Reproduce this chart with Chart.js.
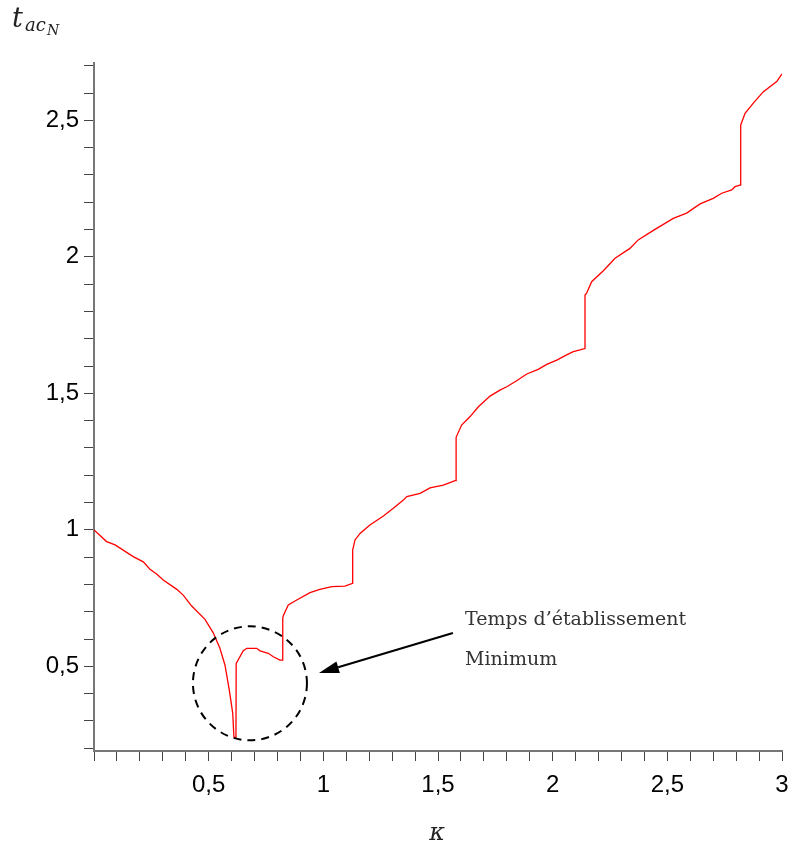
<!DOCTYPE html>
<html>
<head>
<meta charset="utf-8">
<script src="https://cdn.jsdelivr.net/npm/chart.js@4/dist/chart.umd.min.js"></script>
<style>
  html,body{margin:0;padding:0;background:#fff;}
  #wrap{width:789px;height:845px;}
</style>
</head>
<body>
<div id="wrap"><canvas id="tacChart" width="789" height="845"></canvas></div>
<script>
// kappa values (x) and settling time t_acN (y)
const kappa = [0, 0.055, 0.092, 0.171, 0.215, 0.244, 0.273, 0.302, 0.361, 0.389, 0.426, 0.484, 0.520, 0.549, 0.571, 0.590, 0.605, 0.610, 0.619,
  0.620, 0.651, 0.666, 0.709, 0.724, 0.760, 0.782, 0.811, 0.823,
  0.823, 0.825, 0.847, 0.884, 0.942, 0.985, 1.037, 1.094, 1.128,
  1.128, 1.138, 1.160, 1.203, 1.262, 1.305, 1.349, 1.364, 1.422, 1.465, 1.523, 1.552, 1.574, 1.579,
  1.579, 1.603, 1.640, 1.676, 1.727, 1.770, 1.800, 1.843, 1.887, 1.937, 1.974, 2.018, 2.061, 2.090, 2.119, 2.141,
  2.141, 2.148, 2.170, 2.221, 2.272, 2.337, 2.373, 2.439, 2.526, 2.584, 2.643, 2.700, 2.737, 2.781, 2.795, 2.817, 2.820,
  2.820, 2.839, 2.875, 2.919, 2.977, 3.0];
const tacN = [1.0, 0.957, 0.945, 0.902, 0.883, 0.856, 0.838, 0.816, 0.782, 0.761, 0.721, 0.672, 0.623, 0.566, 0.505, 0.413, 0.328, 0.242, 0.237,
  0.511, 0.557, 0.566, 0.566, 0.557, 0.548, 0.535, 0.523, 0.523,
  0.676, 0.685, 0.725, 0.743, 0.770, 0.782, 0.792, 0.794, 0.804,
  0.926, 0.963, 0.987, 1.018, 1.051, 1.079, 1.109, 1.122, 1.134, 1.154, 1.164, 1.173, 1.180, 1.180,
  1.339, 1.384, 1.415, 1.451, 1.490, 1.512, 1.524, 1.546, 1.571, 1.588, 1.606, 1.622, 1.641, 1.653, 1.659, 1.664,
  1.860, 1.867, 1.909, 1.949, 1.995, 2.031, 2.062, 2.097, 2.141, 2.160, 2.194, 2.214, 2.233, 2.245, 2.257, 2.263, 2.263,
  2.483, 2.526, 2.563, 2.605, 2.642, 2.67];

const xLabelValues = [0.5, 1, 1.5, 2, 2.5, 3];
const yLabelValues = [0.5, 1, 1.5, 2, 2.5];

// annotation: circle around the minimum, arrow and caption
const minCircle = {x:0.68, y:0.438};
const arrowFrom = {x:1.565, y:0.622};
const arrowTo = {x:0.981, y:0.476};
const captionLines = ['Temps d\u2019\u00e9tablissement', 'Minimum'];
const captionPos = [{x:1.618, y:0.652}, {x:1.618, y:0.505}];

const fmt = v => String(Math.round(v*10)/10).replace('.', ',');
const hasLabel = (list, v) => list.some(l => Math.abs(l - v) < 1e-6);

function tenthTicks(from, to){
  const out = [];
  for(let i = Math.round(from*10); i <= Math.round(to*10); i++) out.push({value:i/10});
  return out;
}

const annotate = {
  id:'annotate',
  afterDraw(chart){
    const {ctx, scales:{x, y}} = chart;
    ctx.save();
    // dashed circle
    ctx.strokeStyle = '#000';
    ctx.lineWidth = 2;
    ctx.setLineDash([8, 6]);
    ctx.beginPath();
    ctx.arc(x.getPixelForValue(minCircle.x), y.getPixelForValue(minCircle.y), 57, 0, Math.PI*2);
    ctx.stroke();
    ctx.setLineDash([]);

    // arrow
    const x0 = x.getPixelForValue(arrowFrom.x), y0 = y.getPixelForValue(arrowFrom.y);
    const x1 = x.getPixelForValue(arrowTo.x), y1 = y.getPixelForValue(arrowTo.y);
    const ang = Math.atan2(y1 - y0, x1 - x0);
    const hl = 20, hw = 6;
    ctx.beginPath();
    ctx.moveTo(x0, y0);
    ctx.lineTo(x1 - hl*Math.cos(ang), y1 - hl*Math.sin(ang));
    ctx.stroke();
    ctx.fillStyle = '#000';
    ctx.beginPath();
    ctx.moveTo(x1, y1);
    ctx.lineTo(x1 - hl*Math.cos(ang) + hw*Math.sin(ang), y1 - hl*Math.sin(ang) - hw*Math.cos(ang));
    ctx.lineTo(x1 - hl*Math.cos(ang) - hw*Math.sin(ang), y1 - hl*Math.sin(ang) + hw*Math.cos(ang));
    ctx.closePath();
    ctx.fill();

    // caption
    ctx.fillStyle = '#333';
    ctx.font = '19px "DejaVu Serif"';
    ctx.textAlign = 'left';
    ctx.textBaseline = 'alphabetic';
    captionLines.forEach((t, i) => {
      ctx.fillText(t, x.getPixelForValue(captionPos[i].x), y.getPixelForValue(captionPos[i].y));
    });

    // axis titles
    ctx.fillStyle = '#222';
    ctx.font = 'italic 27px "DejaVu Serif"';
    ctx.fillText('t', 12, 27);
    ctx.font = 'italic 18px "DejaVu Serif"';
    ctx.fillText('ac', 25, 31);
    ctx.font = 'italic 14px "DejaVu Serif"';
    ctx.fillText('N', 47, 35);

    ctx.font = 'italic 24px "DejaVu Serif"';
    ctx.textAlign = 'center';
    ctx.fillText('\u03ba', 437, 840);
    ctx.restore();
  }
};

const ctx = document.getElementById('tacChart').getContext('2d');
new Chart(ctx, {
  type:'line',
  data:{
    datasets:[{
      data:kappa.map((k, i) => ({x:k, y:tacN[i]})),
      borderColor:'#ff0000',
      borderWidth:1.3,
      pointRadius:0,
      tension:0,
      fill:false
    }]
  },
  options:{
    responsive:false,
    animation:false,
    layout:{padding:{top:63, right:7, left:0, bottom:0}},
    plugins:{legend:{display:false}, tooltip:{enabled:false}},
    scales:{
      x:{
        type:'linear', min:0, max:3,
        afterBuildTicks:axis => { axis.ticks = tenthTicks(0, 3); },
        afterFit:axis => { axis.height = 94; axis.paddingLeft = 0; axis.paddingRight = 0; },
        border:{display:true, color:'#777', width:2},
        grid:{drawOnChartArea:false, drawTicks:true, tickLength:10, tickColor:'#444', lineWidth:1},
        ticks:{
          autoSkip:false, maxRotation:0, padding:10, color:'#000',
          font:{family:'"Liberation Sans", Arial', size:24},
          callback:v => hasLabel(xLabelValues, v) ? fmt(v) : ''
        }
      },
      y:{
        type:'linear', min:0.19, max:2.71,
        afterBuildTicks:axis => { axis.ticks = tenthTicks(0.2, 2.7); },
        afterFit:axis => { axis.width = 94; axis.paddingTop = 0; axis.paddingBottom = 0; },
        border:{display:true, color:'#777', width:2},
        grid:{drawOnChartArea:false, drawTicks:true, tickLength:10, tickColor:'#444', lineWidth:1},
        ticks:{
          autoSkip:false, padding:5, color:'#000',
          font:{family:'"Liberation Sans", Arial', size:24},
          callback:v => hasLabel(yLabelValues, v) ? fmt(v) : ''
        }
      }
    }
  },
  plugins:[annotate]
});
</script>
</body>
</html>
